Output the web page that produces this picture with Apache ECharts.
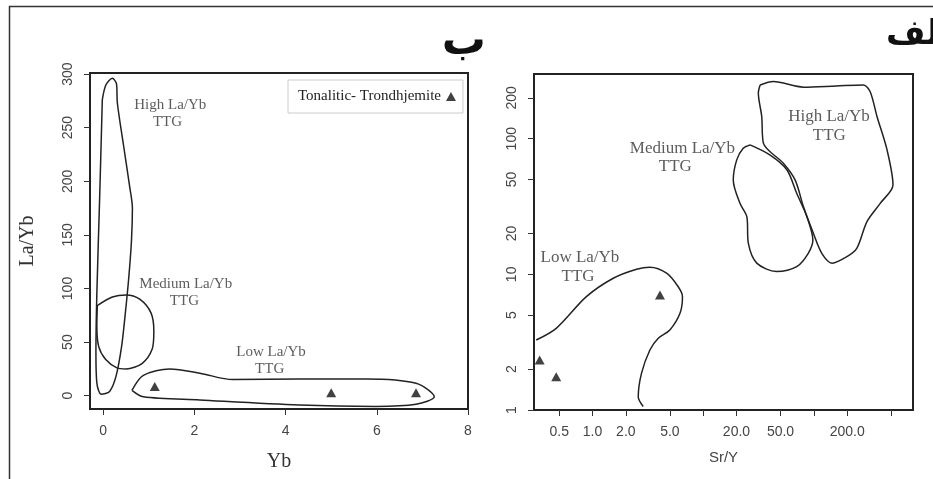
<!DOCTYPE html>
<html>
<head>
<meta charset="utf-8">
<script src="https://cdn.jsdelivr.net/npm/echarts@6/dist/echarts.min.js"></script>
<style>
  html, body { margin: 0; padding: 0; background: #fff; }
  #chart { width: 933px; height: 479px; }
</style>
</head>
<body>
<div id="chart"></div>
<script>
// ---- panel ب : Yb vs La/Yb ----
var ybTicks = [0, 2, 4, 6, 8];
var laybTicks = [0, 50, 100, 150, 200, 250, 300];

var highFieldYb = [[-0.02, 276], [0.06, 290], [0.2, 296], [0.29, 291], [0.31, 273], [0.44, 235], [0.58, 195],
  [0.64, 175], [0.62, 145], [0.56, 110], [0.48, 75], [0.40, 45], [0.28, 18], [0.14, 4], [-0.04, 1.3],
  [-0.14, 12], [-0.16, 40], [-0.14, 95], [-0.08, 182], [-0.02, 276]];
var mediumFieldYb = [[-0.13, 84], [0.2, 92], [0.5, 94], [0.8, 90], [1.05, 77], [1.11, 60], [1.07, 43],
  [0.85, 30], [0.5, 25], [0.3, 26], [0.05, 34], [-0.1, 46], [-0.14, 65], [-0.13, 84]];
var lowFieldYb = [[0.63, 5], [0.88, 19], [1.46, 25], [2.12, 21], [2.84, 15], [4.3, 15.6], [5.76, 15.6],
  [6.86, 11.6], [7.26, -1], [6.86, -8], [5.98, -10], [4.3, -8.7], [2.12, -4], [0.88, -1], [0.63, 5]];
var samplesYb = [1.13, 5.0, 6.86];
var samplesLaYb = [8.5, 2.8, 2.8];
var fieldLabelsYb = [
  { name: 'High La/Yb', value: [1.47, 271] }, { name: 'TTG', value: [1.41, 255] },
  { name: 'Medium La/Yb', value: [1.81, 104] }, { name: 'TTG', value: [1.78, 88] },
  { name: 'Low La/Yb', value: [3.68, 40.5] }, { name: 'TTG', value: [3.65, 24.6] }
];

// ---- panel الف : Sr/Y vs La/Yb (log-log) ----
var srTicks = [0.5, 1, 2, 5, 10, 20, 50, 100, 200, 500];
var srLabels = [0.5, 1, 2, 5, 20, 50, 200];
var laybLogTicks = [1, 2, 5, 10, 20, 50, 100, 200];

var lowFieldSr = [[0.31, 3.28], [0.47, 4.0], [0.88, 6.85], [1.54, 9.36], [2.5, 10.9], [3.3, 11.3], [4.67, 10.2],
  [5.95, 8.1], [6.5, 6.85], [6.17, 5.16], [5.0, 3.89], [3.93, 3.38], [3.3, 2.77], [2.77, 1.86], [2.59, 1.25], [2.87, 1.06]];
var mediumFieldSr = [[26.5, 90], [40, 76], [57, 59], [70, 39.6], [86.5, 26.6], [98, 17.9], [89, 14.3], [70, 11.4],
  [46, 10.5], [30.5, 12.1], [25.6, 16.9], [24.8, 26.6], [21.5, 33.4], [18.7, 49.7], [20.1, 69.8], [23, 85], [26.5, 90]];
var highFieldSr = [[32.7, 249], [43, 264], [80.5, 240], [160, 245], [281, 249], [323, 222], [372, 146], [458, 83],
  [519, 45.6], [398, 33.4], [302, 24.5], [245, 15.6], [199, 13.5], [146, 12.1], [118, 14.3], [99, 20.1],
  [80.5, 31.6], [67.7, 49.7], [53, 66], [35, 92.7], [33.8, 146], [31.5, 217], [32.7, 249]];
var samplesSr = [0.333, 0.47, 4.07];
var samplesLaYbSr = [2.34, 1.76, 7.05];
var fieldLabelsSr = [
  { name: 'High La/Yb', value: [137, 146] }, { name: 'TTG', value: [138, 105] },
  { name: 'Medium La/Yb', value: [6.5, 85] }, { name: 'TTG', value: [5.6, 62] },
  { name: 'Low La/Yb', value: [0.77, 13.3] }, { name: 'TTG', value: [0.74, 9.6] }
];

var lg = function (p) { return [Math.log10(p[0]), Math.log10(p[1])]; };
var zip = function (xs, ys) { return xs.map(function (x, i) { return [x, ys[i]]; }); };

var tickFont = { fontFamily: 'Liberation Sans', fontSize: 14, color: '#444' };
var serif = 'Liberation Serif';
var lineColor = '#222';
var noLine = { show: false, onZero: false };

function fieldLine(data, xi) {
  return {
    type: 'line', xAxisIndex: xi, yAxisIndex: xi, data: data, smooth: 0.3,
    symbol: 'none', silent: true, lineStyle: { color: lineColor, width: 1.5 }
  };
}
function labelSeries(data, xi, size) {
  return {
    type: 'scatter', xAxisIndex: xi, yAxisIndex: xi, data: data, symbolSize: 1, silent: true,
    itemStyle: { color: 'rgba(0,0,0,0)' },
    label: { show: true, position: 'inside', formatter: '{b}', fontFamily: serif, fontSize: size, color: '#333' }
  };
}

var chart = echarts.init(document.getElementById('chart'));
chart.setOption({
  animation: false,
  legend: {
    data: [{ name: 'Tonalitic- Trondhjemite', icon: 'triangle' }],
    left: 288, top: 80, align: 'right', padding: [9, 7, 9, 10],
    borderColor: '#ccc', borderWidth: 1, itemWidth: 10, itemHeight: 9,
    textStyle: { fontFamily: serif, fontSize: 15, color: '#222' }
  },
  graphic: [
    { type: 'rect', shape: { x: 9.5, y: 6.5, width: 1000, height: 1000 }, style: { fill: 'none', stroke: '#333', lineWidth: 1.5 } },
    { type: 'text', x: 486, y: 43, style: { text: 'ب', font: 'bold 44px "DejaVu Sans"', fill: '#111', align: 'right', verticalAlign: 'middle' } },
    { type: 'text', x: 886, y: 35, style: { text: 'الف', font: 'bold 34px "DejaVu Sans"', fill: '#111', align: 'left', verticalAlign: 'middle' } }
  ],
  grid: [
    { left: 90, top: 73, width: 378, height: 336, show: true, borderColor: '#222', borderWidth: 2 },
    { left: 534, top: 74, width: 379, height: 336, show: true, borderColor: '#222', borderWidth: 2 }
  ],
  xAxis: [
    {
      type: 'value', gridIndex: 0, min: -0.29, max: 8.0,
      axisLine: noLine, splitLine: { show: false },
      axisTick: { show: true, length: 6, customValues: ybTicks, lineStyle: { color: '#333' } },
      axisLabel: Object.assign({ customValues: ybTicks, margin: 15 }, tickFont),
      name: 'Yb', nameLocation: 'middle', nameGap: 43,
      nameTextStyle: { fontFamily: serif, fontSize: 20, color: '#333' }
    },
    {
      type: 'value', gridIndex: 1, min: Math.log10(0.296), max: Math.log10(787),
      axisLine: noLine, splitLine: { show: false },
      axisTick: { show: true, length: 6, customValues: srTicks.map(Math.log10), lineStyle: { color: '#333' } },
      axisLabel: Object.assign({
        customValues: srLabels.map(Math.log10), margin: 15,
        formatter: function (v) { return Math.pow(10, v).toFixed(1); }
      }, tickFont),
      name: 'Sr/Y', nameLocation: 'middle', nameGap: 40,
      nameTextStyle: { fontFamily: 'Liberation Sans', fontSize: 15, color: '#444' }
    }
  ],
  yAxis: [
    {
      type: 'value', gridIndex: 0, min: -12.4, max: 301,
      axisLine: noLine, splitLine: { show: false },
      axisTick: { show: true, length: 6, customValues: laybTicks, lineStyle: { color: '#333' } },
      axisLabel: Object.assign({ customValues: laybTicks, margin: 15, rotate: 90 }, tickFont),
      name: 'La/Yb', nameLocation: 'middle', nameGap: 52, nameRotate: 90,
      nameTextStyle: { fontFamily: serif, fontSize: 20, color: '#333' }
    },
    {
      type: 'value', gridIndex: 1, min: 0, max: Math.log10(300),
      axisLine: noLine, splitLine: { show: false },
      axisTick: { show: true, length: 6, customValues: laybLogTicks.map(Math.log10), lineStyle: { color: '#333' } },
      axisLabel: Object.assign({
        customValues: laybLogTicks.map(Math.log10), margin: 15, rotate: 90,
        formatter: function (v) { return String(Math.round(Math.pow(10, v))); }
      }, tickFont)
    }
  ],
  series: [
    fieldLine(highFieldYb, 0),
    fieldLine(mediumFieldYb, 0),
    fieldLine(lowFieldYb, 0),
    labelSeries(fieldLabelsYb, 0, 15),
    {
      name: 'Tonalitic- Trondhjemite', type: 'scatter', xAxisIndex: 0, yAxisIndex: 0,
      data: zip(samplesYb, samplesLaYb), symbol: 'triangle', symbolSize: [10, 9],
      itemStyle: { color: '#111' }
    },
    fieldLine(lowFieldSr.map(lg), 1),
    fieldLine(mediumFieldSr.map(lg), 1),
    fieldLine(highFieldSr.map(lg), 1),
    labelSeries(fieldLabelsSr.map(function (d) { return { name: d.name, value: lg(d.value) }; }), 1, 17),
    {
      name: 'Tonalitic- Trondhjemite', type: 'scatter', xAxisIndex: 1, yAxisIndex: 1,
      data: zip(samplesSr, samplesLaYbSr).map(lg), symbol: 'triangle', symbolSize: [10, 9],
      itemStyle: { color: '#111' }
    }
  ]
});
</script>
</body>
</html>
